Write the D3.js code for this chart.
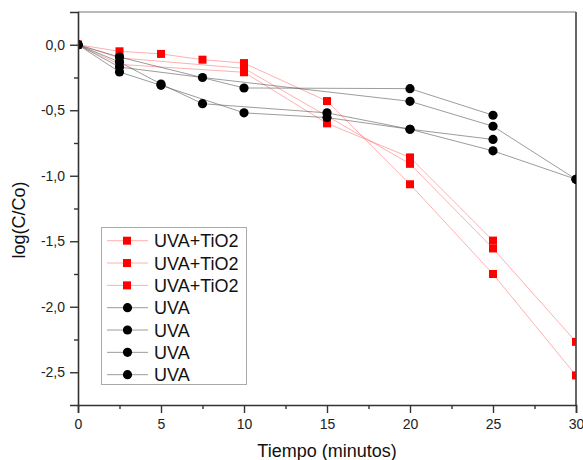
<!DOCTYPE html>
<html><head><meta charset="utf-8">
<script src="https://cdn.jsdelivr.net/npm/d3@7"></script>
<style>body{margin:0;background:#fff}svg{display:block;font-family:Arial,"Liberation Sans",sans-serif}</style>
</head><body>
<svg id="c" width="583" height="460"></svg>
<script>
// ---- data ----
const xTicks = [0, 5, 10, 15, 20, 25, 30];
const xMinor = [2.5, 7.5, 12.5, 17.5, 22.5, 27.5];
const yTicks = [0, -0.5, -1, -1.5, -2, -2.5];
const yTickLabels = ["0,0", "-0,5", "-1,0", "-1,5", "-2,0", "-2,5"];
const yMinor = [-0.25, -0.75, -1.25, -1.75, -2.25];

const tio2A_t = [0, 2.5, 5, 7.5, 10, 15, 20, 25, 30];
const tio2A_v = [0, -0.05, -0.07, -0.114, -0.14, -0.43, -1.065, -1.75, -2.524];
const tio2B_t = [0, 2.5, 10, 20, 25, 30];
const tio2B_v = [0, -0.10, -0.18, -0.909, -1.555, -2.268];
const tio2C_t = [0, 2.5, 10, 15, 20, 25];
const tio2C_v = [0, -0.15, -0.21, -0.60, -0.86, -1.495];

const uvaA_t = [0, 2.5, 10, 20, 25];
const uvaA_v = [0, -0.094, -0.33, -0.335, -0.538];
const uvaB_t = [0, 2.5, 7.5, 20, 25, 30];
const uvaB_v = [0, -0.17, -0.25, -0.432, -0.622, -1.027];
const uvaC_t = [0, 2.5, 5, 7.5, 15, 20, 25];
const uvaC_v = [0, -0.132, -0.30, -0.45, -0.52, -0.645, -0.723];
const uvaD_t = [0, 2.5, 5, 10, 15, 20, 25, 30];
const uvaD_v = [0, -0.208, -0.31, -0.52, -0.556, -0.645, -0.81, -1.027];

const legendLabels = ["UVA+TiO2", "UVA+TiO2", "UVA+TiO2", "UVA", "UVA", "UVA", "UVA"];
const xTitle = "Tiempo (minutos)";
const yTitle = "log(C/Co)";

// ---- build ----
const series = [
  {t: tio2A_t, v: tio2A_v, kind: "sq"},
  {t: tio2B_t, v: tio2B_v, kind: "sq"},
  {t: tio2C_t, v: tio2C_v, kind: "sq"},
  {t: uvaA_t, v: uvaA_v, kind: "ci"},
  {t: uvaB_t, v: uvaB_v, kind: "ci"},
  {t: uvaC_t, v: uvaC_v, kind: "ci"},
  {t: uvaD_t, v: uvaD_v, kind: "ci"}
].map(s => ({kind: s.kind, pts: s.t.map((t, i) => ({x: t, y: s.v[i]}))}));

const L = 78, R = 576, T = 12, B = 405;
const x = d3.scaleLinear().domain([0, 30]).range([L, R]);
const y = d3.scaleLinear().domain([-2.75, 0.25]).range([B, T]);
const svg = d3.select("#c");

svg.append("defs").append("clipPath").attr("id", "clip")
  .append("rect").attr("x", L).attr("y", T).attr("width", R - L).attr("height", B - T);

// frame top/right
svg.append("line").attr("x1", L).attr("x2", R).attr("y1", T).attr("y2", T).attr("stroke", "#777").attr("stroke-width", 1.2);
svg.append("line").attr("x1", R).attr("x2", R).attr("y1", T).attr("y2", B).attr("stroke", "#666").attr("stroke-width", 2);

const plot = svg.append("g").attr("clip-path", "url(#clip)");
const line = d3.line().x(d => x(d.x)).y(d => y(d.y));
const redLine = "rgba(255,80,80,0.45)", grayLine = "rgba(90,90,90,0.6)";

series.forEach(s => {
  plot.append("path").attr("d", line(s.pts)).attr("fill", "none")
    .attr("stroke", s.kind === "sq" ? redLine : grayLine).attr("stroke-width", 1);
});
series.forEach(s => {
  const g = plot.append("g");
  if (s.kind === "sq") {
    g.selectAll("rect").data(s.pts).join("rect")
      .attr("x", d => x(d.x) - 4).attr("y", d => y(d.y) - 4).attr("width", 8).attr("height", 8)
      .attr("fill", "#ff0000");
  } else {
    g.selectAll("circle").data(s.pts).join("circle")
      .attr("cx", d => x(d.x)).attr("cy", d => y(d.y)).attr("r", 4.6).attr("fill", "#000");
  }
});

// axes
const axCol = "#333";
const xAxis = svg.append("g").attr("transform", `translate(0,${B})`)
  .call(d3.axisBottom(x).tickValues(xTicks).tickSize(8).tickPadding(6).tickFormat(d3.format("d")));
const xAxisMinor = svg.append("g").attr("transform", `translate(0,${B})`)
  .call(d3.axisBottom(x).tickValues(xMinor).tickSize(4).tickFormat(""));
const yAxis = svg.append("g").attr("transform", `translate(${L},0)`)
  .call(d3.axisLeft(y).tickValues(yTicks).tickSize(8).tickPadding(5).tickFormat((d, i) => yTickLabels[i]));
const yAxisMinor = svg.append("g").attr("transform", `translate(${L},0)`)
  .call(d3.axisLeft(y).tickValues(yMinor).tickSize(4).tickFormat(""));
[xAxis, xAxisMinor, yAxis, yAxisMinor].forEach(a => {
  a.select(".domain").attr("stroke", axCol).attr("stroke-width", 1.6);
  a.selectAll(".tick line").attr("stroke", axCol).attr("stroke-width", 1.4);
  a.selectAll(".tick text").attr("fill", "#222").style("font-size", "14px").style("font-family", "Arial, 'Liberation Sans', sans-serif");
});
[xAxisMinor, yAxisMinor].forEach(a => a.select(".domain").remove());

// titles
svg.append("text").attr("x", (L + R) / 2).attr("y", 457).attr("text-anchor", "middle")
  .style("font-size", "18px").attr("fill", "#111").text(xTitle);
svg.append("text").attr("transform", "translate(25,220) rotate(-90)").attr("text-anchor", "middle")
  .style("font-size", "18px").attr("fill", "#111").text(yTitle);

// legend
const lg = svg.append("g");
lg.append("rect").attr("x", 101.5).attr("y", 227.5).attr("width", 145).attr("height", 157)
  .attr("fill", "#fff").attr("stroke", "#aaa").attr("stroke-width", 1);
legendLabels.forEach((lab, i) => {
  const cy = 240.7 + i * 22.33;
  const s = series[i];
  lg.append("line").attr("x1", 107).attr("x2", 148).attr("y1", cy).attr("y2", cy)
    .attr("stroke", s.kind === "sq" ? redLine : grayLine).attr("stroke-width", 1);
  if (s.kind === "sq") lg.append("rect").attr("x", 123).attr("y", cy - 4).attr("width", 8).attr("height", 8).attr("fill", "#ff0000");
  else lg.append("circle").attr("cx", 127.5).attr("cy", cy).attr("r", 4.6).attr("fill", "#000");
  lg.append("text").attr("x", 154).attr("y", cy + 6.5).style("font-size", "18px").attr("fill", "#111").text(lab);
});
</script>
</body></html>
